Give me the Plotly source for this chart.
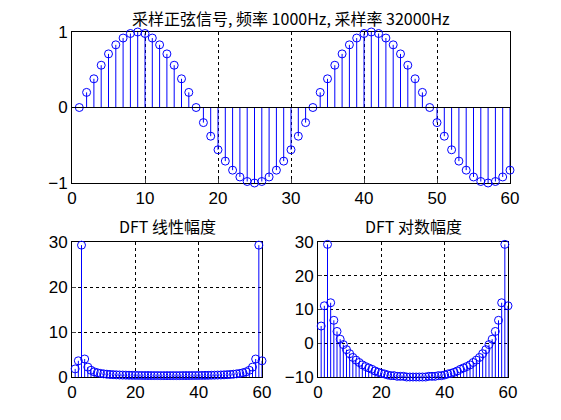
import plotly.graph_objects as go

n_top = list(range(1, 61))
sig = [0.00,0.20,0.38,0.56,0.71,0.83,0.92,0.98,1.00,0.98,0.92,0.83,0.71,0.56,0.38,0.20,
       0.00,-0.20,-0.38,-0.56,-0.71,-0.83,-0.92,-0.98,-1.00,-0.98,-0.92,-0.83,-0.71,-0.56,-0.38,-0.20,
       0.00,0.20,0.38,0.56,0.71,0.83,0.92,0.98,1.00,0.98,0.92,0.83,0.71,0.56,0.38,0.20,
       0.00,-0.20,-0.38,-0.56,-0.71,-0.83,-0.92,-0.98,-1.00,-0.98,-0.92,-0.83]
# DFT magnitude for x=1..31 (x=32..60 mirror x=30..2)
mag_half = [1.8,3.6,29.3,4.0,2.2,1.5,1.15,0.95,0.8,0.7,0.62,0.56,0.52,0.48,0.45,0.43,
            0.41,0.39,0.37,0.36,0.35,0.34,0.33,0.33,0.32,0.32,0.32,0.31,0.31,0.31,0.31]
logmag_half = [5.1,11.1,29.3,12.0,6.8,3.5,1.2,-0.4,-1.9,-3.1,-4.2,-5.0,-5.7,-6.4,-6.9,-7.3,
               -7.7,-8.2,-8.6,-8.9,-9.1,-9.4,-9.6,-9.6,-9.8,-9.8,-9.8,-10.0,-10.0,-10.0,-10.0]
mag = mag_half + mag_half[1:30][::-1]
logmag = logmag_half + logmag_half[1:30][::-1]
n_dft = list(range(1, 61))

BLUE = "#0000ff"
fig = go.Figure()

def stem(x, y, base, xa, ya):
    lx, ly = [], []
    for a, b in zip(x, y):
        lx += [a, a, None]; ly += [base, b, None]
    fig.add_trace(go.Scatter(x=lx, y=ly, mode="lines", line=dict(color=BLUE, width=1),
                             xaxis=xa, yaxis=ya, showlegend=False, hoverinfo="skip", cliponaxis=False))
    fig.add_trace(go.Scatter(x=x, y=y, mode="markers", xaxis=xa, yaxis=ya, showlegend=False,
                             cliponaxis=False,
                             marker=dict(symbol="circle-open", size=8, color=BLUE, line=dict(width=1))))

stem(n_top, sig, 0, "x", "y")
fig.add_trace(go.Scatter(x=[0, 60], y=[0, 0], mode="lines", line=dict(color="black", width=1),
                         xaxis="x", yaxis="y", showlegend=False))
stem(n_dft, mag, 0, "x2", "y2")
stem(n_dft, logmag, -10, "x3", "y3")

W, H = 561, 420
O = 8  # page offset
def px(v): return (v - O) / W
def py(v): return 1 - (v - O) / H

def ax(d):
    base = dict(showgrid=True, gridcolor="black", griddash="dot", gridwidth=1, zeroline=False,
                showline=True, linecolor="black", mirror=True, ticks="inside", ticklen=4,
                automargin=False, layer="below traces",
                tickfont=dict(size=17, family="Liberation Sans", color="black"))
    base.update(d); return base

fig.update_layout(
    width=W, height=H, margin=dict(l=0, r=0, t=0, b=0, autoexpand=False),
    paper_bgcolor="white", plot_bgcolor="white",
    xaxis=ax(dict(domain=[px(72), px(510)], range=[0, 60], dtick=10, anchor="y")),
    yaxis=ax(dict(domain=[py(183), py(32)], range=[-1, 1], dtick=1, anchor="x")),
    xaxis2=ax(dict(domain=[px(72), px(262)], range=[0, 60], dtick=20, anchor="y2")),
    yaxis2=ax(dict(domain=[py(377), py(242)], range=[0, 30], dtick=10, anchor="x2")),
    xaxis3=ax(dict(domain=[px(318), px(508)], range=[0, 60], dtick=20, anchor="y3")),
    yaxis3=ax(dict(domain=[py(377), py(242)], range=[-10, 30], dtick=10, anchor="x3")),
    annotations=[
        dict(text="采样正弦信号, 频率 1000Hz, 采样率 32000Hz", x=px(291), y=py(18), xref="paper", yref="paper",
             xanchor="center", yanchor="middle",
             showarrow=False, font=dict(size=16, family="Noto Sans CJK SC", color="black")),
        dict(text="DFT 线性幅度", x=px(167), y=py(226), xref="paper", yref="paper",
             xanchor="center", yanchor="middle",
             showarrow=False, font=dict(size=16, family="Noto Sans CJK SC", color="black")),
        dict(text="DFT 对数幅度", x=px(413), y=py(226), xref="paper", yref="paper",
             xanchor="center", yanchor="middle",
             showarrow=False, font=dict(size=16, family="Noto Sans CJK SC", color="black")),
    ],
)
fig.write_html("out.html")
